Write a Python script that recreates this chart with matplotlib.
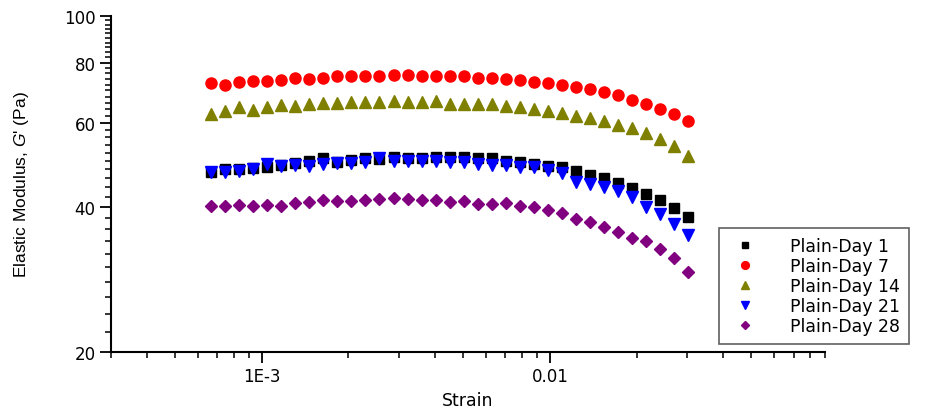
import matplotlib
matplotlib.use("Agg")
import matplotlib.pyplot as plt
from matplotlib.ticker import FixedLocator, FixedFormatter, NullFormatter

# strain values (shared by all samples)
strain = [0.000667, 0.000746, 0.000835, 0.000934, 0.001045, 0.001169, 0.001307,
          0.001462, 0.001636, 0.00183, 0.002047, 0.00229, 0.002562, 0.002866,
          0.003206, 0.003587, 0.004012, 0.004489, 0.005021, 0.005617, 0.006284,
          0.00703, 0.007864, 0.008797, 0.009842, 0.01101, 0.01232, 0.01378,
          0.01541, 0.01724, 0.01929, 0.02158, 0.02414, 0.027, 0.03021]

# elastic modulus G' (Pa)
day1 = [47.3, 48.0, 48.0, 48.3, 48.6, 49.0, 49.4, 50.0, 50.6, 49.8, 50.2, 50.7,
        50.4, 50.8, 50.6, 50.7, 50.8, 50.8, 50.8, 50.6, 50.6, 50.0, 49.7, 49.2,
        48.8, 48.4, 47.7, 46.8, 46.0, 45.0, 43.9, 42.6, 41.4, 39.9, 38.2]
day7 = [72.4, 71.9, 72.8, 73.3, 73.3, 73.6, 74.3, 74.0, 74.3, 74.9, 74.9, 74.9,
        74.9, 75.4, 75.5, 74.9, 74.9, 74.9, 74.9, 74.3, 74.3, 74.0, 73.7, 73.0,
        72.6, 71.9, 71.3, 70.5, 69.4, 68.5, 66.9, 65.7, 64.1, 62.4, 60.6]
day14 = [62.4, 63.5, 64.7, 63.8, 64.8, 65.2, 65.1, 65.7, 65.9, 66.0, 66.1, 66.1,
         66.1, 66.5, 66.1, 66.1, 66.5, 65.7, 65.7, 65.7, 65.5, 65.1, 64.8, 64.1,
         63.5, 62.8, 62.0, 61.4, 60.4, 59.4, 58.5, 57.0, 55.4, 53.6, 51.1]
day21 = [47.3, 47.3, 47.7, 48.0, 49.1, 48.8, 49.0, 48.7, 49.1, 49.4, 49.4, 49.7,
         50.7, 50.0, 50.0, 50.0, 50.0, 49.7, 49.6, 49.2, 49.0, 49.0, 48.6, 48.6,
         47.9, 47.1, 45.2, 44.7, 44.0, 43.2, 42.0, 40.1, 38.7, 37.0, 35.0]
day28 = [40.3, 40.3, 40.5, 40.3, 40.5, 40.3, 40.8, 41.0, 41.5, 41.3, 41.3, 41.5,
         41.6, 41.9, 41.6, 41.5, 41.5, 41.1, 41.2, 40.6, 40.6, 40.8, 40.2, 40.0,
         39.5, 38.9, 37.8, 37.3, 36.4, 35.6, 34.5, 34.1, 32.8, 31.4, 29.3]

labels = ["Plain-Day 1", "Plain-Day 7", "Plain-Day 14", "Plain-Day 21", "Plain-Day 28"]
x_ticks = [1e-3, 1e-2]
x_ticklabels = ["1E-3", "0.01"]
y_ticks = [20, 40, 60, 80, 100]

plt.rcParams['font.family'] = ['DejaVu Sans']
plt.rcParams['mathtext.fontset'] = 'custom'
plt.rcParams['mathtext.it'] = 'Liberation Sans:italic'
plt.rcParams['mathtext.rm'] = 'Liberation Sans'

fig = plt.figure(figsize=(9.41, 4.10), dpi=100)
ax = fig.add_axes([111 / 941, 57 / 410, 714 / 941, 336 / 410])

ax.plot(strain, day1, 's', color='black', ms=7, label=labels[0])
ax.plot(strain, day7, 'o', color='#ff0000', ms=8, label=labels[1])
ax.plot(strain, day14, '^', color='#808000', ms=8.3, label=labels[2])
ax.plot(strain, day21, 'v', color='#0000ff', ms=8.3, label=labels[3])
ax.plot(strain, day28, 'D', color='#800080', ms=6.3, label=labels[4])

ax.set_xscale('log')
ax.set_yscale('log')
ax.set_xlim(3e-4, 0.09)
ax.set_ylim(20, 100)

ax.xaxis.set_major_locator(FixedLocator(x_ticks))
ax.xaxis.set_major_formatter(FixedFormatter(x_ticklabels))
xminor = [m * 10.0 ** e for e in (-4, -3, -2) for m in range(2, 10)]
ax.xaxis.set_minor_locator(FixedLocator([v for v in xminor if 3e-4 <= v <= 0.09]))
ax.xaxis.set_minor_formatter(NullFormatter())

ax.yaxis.set_major_locator(FixedLocator(y_ticks))
ax.yaxis.set_major_formatter(FixedFormatter([str(v) for v in y_ticks]))
ax.yaxis.set_minor_locator(FixedLocator([v for v in range(22, 100, 2) if v % 20]))
ax.yaxis.set_minor_formatter(NullFormatter())

for s in ('top', 'right'):
    ax.spines[s].set_visible(False)
for s in ('left', 'bottom'):
    ax.spines[s].set_linewidth(1.5)
ax.tick_params(which='major', direction='out', length=8, width=1.3, labelsize=12)
ax.tick_params(which='minor', direction='out', length=4, width=1.1)
ax.tick_params(axis='y', which='major', pad=3)
ax.tick_params(axis='x', which='major', pad=3)

ax.set_xlabel("Strain", fontsize=12.5, labelpad=4)
ax.set_ylabel(r"Elastic Modulus, $G$' (Pa)", fontsize=12.5, labelpad=24,
              family=['Liberation Sans', 'DejaVu Sans'])

leg = fig.legend(loc='lower left', bbox_to_anchor=(719 / 941, 65 / 410),
                 fontsize=12.5, frameon=True, fancybox=False, framealpha=1,
                 edgecolor='#606060', markerscale=0.7, labelspacing=0.12,
                 handletextpad=1.6, borderpad=0.5, borderaxespad=0)
leg.get_frame().set_linewidth(1.2)

fig.savefig("out.png", dpi=100)
